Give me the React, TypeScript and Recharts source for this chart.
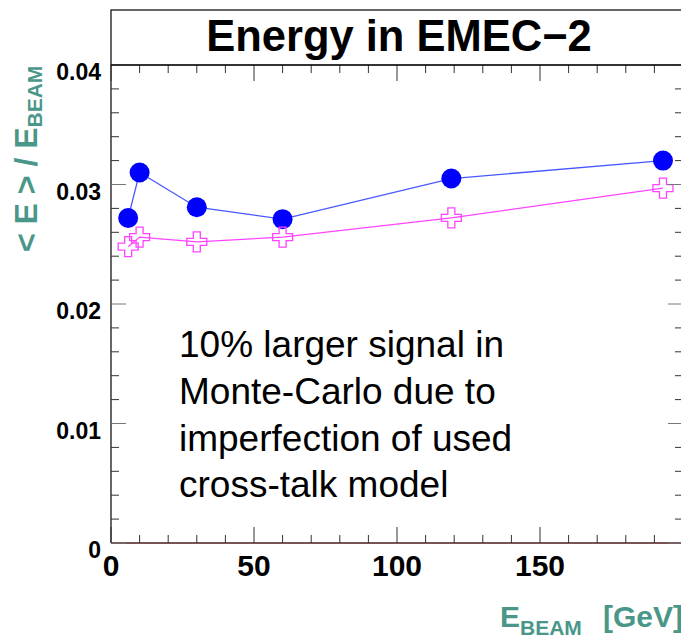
import React from 'react';
import { LineChart, Line, XAxis, YAxis, ReferenceLine } from 'recharts';

// Beam energies (GeV)
const energies = [6, 10, 30, 60, 119, 193];
// <E>/E_BEAM, data (blue full circles)
const dataSignal = [0.0272, 0.0310, 0.0281, 0.0271, 0.0305, 0.0320];
// <E>/E_BEAM, Monte-Carlo (magenta open crosses)
const mcSignal = [0.0248, 0.0256, 0.0252, 0.0256, 0.0272, 0.0297];

const xTicks = [0, 10, 20, 30, 40, 50, 60, 70, 80, 90, 100, 110, 120, 130, 140, 150, 160, 170, 180, 190, 200];
const xLabelValues = [0, 50, 100, 150];
const xLabels = ['0', '50', '100', '150'];
const yTicks = [0, 0.002, 0.004, 0.006, 0.008, 0.01, 0.012, 0.014, 0.016, 0.018, 0.02, 0.022, 0.024, 0.026, 0.028, 0.03, 0.032, 0.034, 0.036, 0.038, 0.04];
const yLabelValues = [0, 0.01, 0.02, 0.03, 0.04];
const yLabels = ['0', '0.01', '0.02', '0.03', '0.04'];

const title = 'Energy in EMEC\u22122';
const noteLines = ['10% larger signal in', 'Monte-Carlo due to', 'imperfection of used', 'cross-talk model'];

const rows = energies.map((e, i) => ({ e, data: dataSignal[i], mc: mcSignal[i] }));

const FONT = '"Liberation Sans", Arial, Helvetica, sans-serif';
const TEAL = '#4a978a';
const TICK = '#333';

const near = (a: number, b: number) => Math.abs(a - b) < 1e-9;
const xLabelOf = (v: number) => {
  const i = xLabelValues.findIndex((t) => near(t, v));
  return i >= 0 ? xLabels[i] : null;
};
const yLabelOf = (v: number) => {
  const i = yLabelValues.findIndex((t) => near(t, v));
  return i >= 0 ? yLabels[i] : null;
};
const xMajor = (v: number) => near(v % 50, 0);
const yMajor = (v: number) => yLabelValues.some((t) => near(t, v));

const BottomTick = (p: any) => {
  const { x, y, payload } = p;
  const v = payload.value;
  const len = xMajor(v) ? 16 : 8;
  const lab = xLabelOf(v);
  return (
    <g>
      <line x1={x} x2={x} y1={y} y2={y - len} stroke={TICK} strokeWidth={1} />
      {lab !== null && (
        <text x={x} y={y + 33} textAnchor="middle" fontFamily={FONT} fontWeight="bold" fontSize={30} fill="#000">
          {lab}
        </text>
      )}
    </g>
  );
};

const TopTick = (p: any) => {
  const { x, y, payload } = p;
  const len = xMajor(payload.value) ? 16 : 8;
  return <line x1={x} x2={x} y1={y} y2={y + len} stroke={TICK} strokeWidth={1} />;
};

const LeftTick = (p: any) => {
  const { x, y, payload } = p;
  const v = payload.value;
  const len = yMajor(v) ? 15 : 8;
  const lab = yLabelOf(v);
  return (
    <g>
      <line x1={x} x2={x + len} y1={y} y2={y} stroke={yMajor(v) ? '#777' : TICK} strokeWidth={1} />
      {lab !== null && (
        <text x={x - 10} y={y + 15} textAnchor="end" fontFamily={FONT} fontWeight="bold" fontSize={23} fill="#000">
          {lab}
        </text>
      )}
    </g>
  );
};

const RightTick = (p: any) => {
  const { x, y, payload } = p;
  const v = payload.value;
  const len = yMajor(v) ? 15 : 8;
  return <line x1={x} x2={x - len} y1={y} y2={y} stroke={yMajor(v) ? '#777' : TICK} strokeWidth={1} />;
};

const BlueDot = (p: any) => {
  const { cx, cy, index } = p;
  if (cx == null || cy == null) return <g key={`b${index}`} />;
  return <circle key={`b${index}`} cx={cx} cy={cy} r={10} fill="#0000ff" stroke="none" />;
};

const CrossDot = (p: any) => {
  const { cx, cy, index } = p;
  if (cx == null || cy == null) return <g key={`c${index}`} />;
  const a = 10;
  const b = 3.5;
  const d = `M${cx - b},${cy - a} H${cx + b} V${cy - b} H${cx + a} V${cy + b} H${cx + b} V${cy + a} H${cx - b} V${cy + b} H${cx - a} V${cy - b} H${cx - b} Z`;
  return <path key={`c${index}`} d={d} fill="none" stroke="#ff44ff" strokeWidth={1.3} />;
};

export default function App() {
  return (
    <div style={{ position: 'fixed', left: 0, top: 0, width: 681, height: 640, overflow: 'hidden', background: '#fff' }}>
      <LineChart width={700} height={640} data={rows} margin={{ top: 0, right: 0, bottom: 0, left: 0 }}>
        <XAxis
          xAxisId="bottom"
          dataKey="e"
          type="number"
          domain={[0, 200]}
          ticks={xTicks}
          interval={0}
          orientation="bottom"
          height={97}
          tickSize={0}
          tickMargin={0}
          tickLine={false}
          axisLine={{ stroke: '#000', strokeWidth: 1.2 }}
          tick={<BottomTick />}
          allowDataOverflow
        />
        <XAxis
          xAxisId="top"
          dataKey="e"
          type="number"
          domain={[0, 200]}
          ticks={xTicks}
          interval={0}
          orientation="top"
          height={65}
          tickSize={0}
          tickMargin={0}
          tickLine={false}
          axisLine={{ stroke: '#000', strokeWidth: 1.2 }}
          tick={<TopTick />}
          allowDataOverflow
        />
        <YAxis
          yAxisId="left"
          type="number"
          domain={[0, 0.04]}
          ticks={yTicks}
          interval={0}
          orientation="left"
          width={111}
          tickSize={0}
          tickMargin={0}
          tickLine={false}
          axisLine={{ stroke: '#000', strokeWidth: 1.2 }}
          tick={<LeftTick />}
          allowDataOverflow
        />
        <YAxis
          yAxisId="right"
          type="number"
          domain={[0, 0.04]}
          ticks={yTicks}
          interval={0}
          orientation="right"
          width={17}
          tickSize={0}
          tickMargin={0}
          tickLine={false}
          axisLine={{ stroke: '#000', strokeWidth: 1.2 }}
          tick={<RightTick />}
          allowDataOverflow
        />
        <ReferenceLine xAxisId="bottom" yAxisId="left" y={0} stroke="#e65050" strokeWidth={1.2} />
        <Line
          xAxisId="bottom"
          yAxisId="left"
          type="linear"
          dataKey="data"
          stroke="#4858ff"
          strokeWidth={1.3}
          dot={<BlueDot />}
          activeDot={false}
          isAnimationActive={false}
        />
        <Line
          xAxisId="bottom"
          yAxisId="left"
          type="linear"
          dataKey="mc"
          stroke="#ff44ff"
          strokeWidth={1.3}
          dot={<CrossDot />}
          activeDot={false}
          isAnimationActive={false}
        />
      </LineChart>
      <svg
        width={681}
        height={640}
        style={{ position: 'absolute', left: 0, top: 0, pointerEvents: 'none' }}
      >
        <rect x={111} y={10} width={600} height={55} fill="none" stroke="#000" strokeWidth={1.2} />
        <text x={399} y={51} textAnchor="middle" fontFamily={FONT} fontWeight="bold" fontSize={43.5} fill="#000">
          {title}
        </text>
        {noteLines.map((t, i) => (
          <text key={i} x={179} y={357 + i * 46.8} fontFamily={FONT} fontSize={37} fill="#000">
            {t}
          </text>
        ))}
        <text transform="translate(37,252) rotate(-90)" fontFamily={FONT} fontWeight="bold" fontSize={32} fill={TEAL}>
          {'< E > / E'}
          <tspan dy={5} fontSize={21}>BEAM</tspan>
        </text>
        <text x={500} y={627} fontFamily={FONT} fontWeight="bold" fontSize={30} fill={TEAL}>
          E<tspan dy={8} fontSize={21}>BEAM</tspan>
        </text>
        <text x={603} y={627} fontFamily={FONT} fontWeight="bold" fontSize={30} fill={TEAL}>
          [GeV]
        </text>
      </svg>
    </div>
  );
}
